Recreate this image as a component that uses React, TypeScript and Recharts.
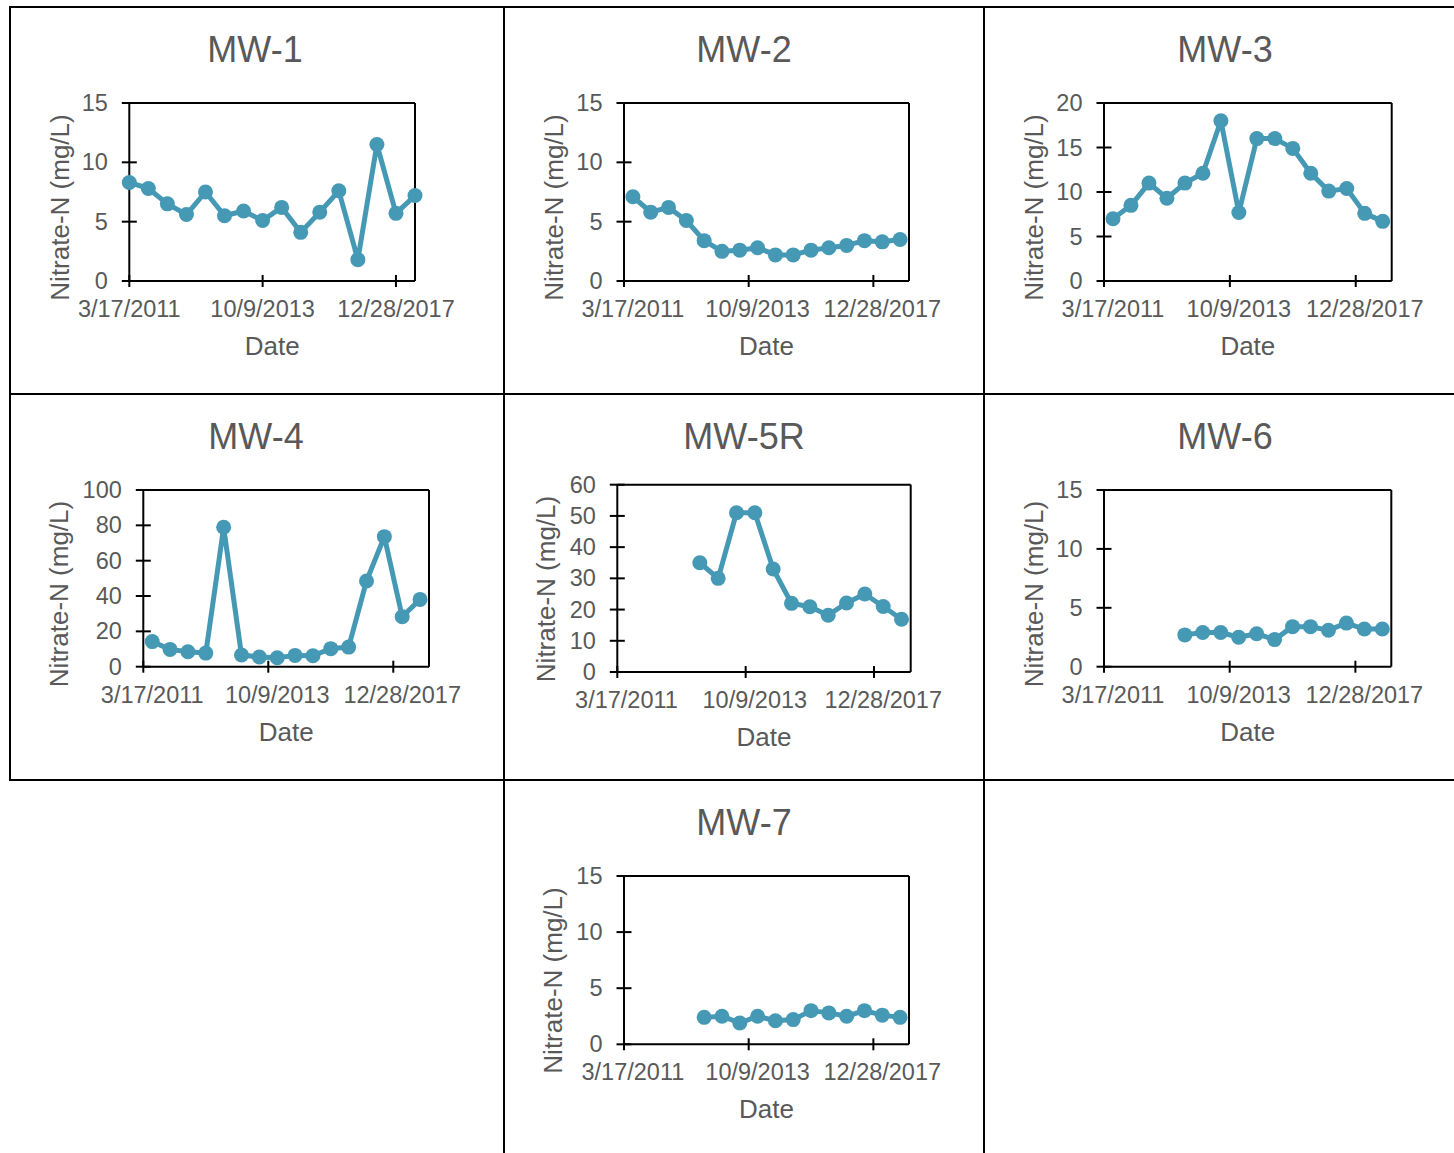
import React from "react";
import { LineChart, Line, XAxis, YAxis, Customized } from "recharts";

// ---------- data ----------
const samples = [1, 2, 3, 4, 5, 6, 7, 8, 9, 10, 11, 12, 13, 14, 15, 16];
const dateBySample: Record<number, string> = {
  1: "3/17/2011",
  8: "10/9/2013",
  15: "12/28/2017",
};

const mw1 = [8.3, 7.8, 6.5, 5.6, 7.5, 5.5, 5.9, 5.1, 6.2, 4.1, 5.8, 7.6, 1.8, 11.5, 5.7, 7.2];
const mw2 = [7.1, 5.8, 6.2, 5.1, 3.4, 2.5, 2.6, 2.8, 2.2, 2.2, 2.6, 2.8, 3.0, 3.4, 3.3, 3.5];
const mw3 = [7.0, 8.5, 11.0, 9.3, 11.0, 12.1, 18.0, 7.7, 16.0, 16.0, 14.9, 12.1, 10.1, 10.4, 7.6, 6.7];
const mw4 = [14.2, 9.8, 8.5, 7.7, 78.9, 6.6, 5.5, 5.1, 6.4, 6.2, 10.2, 11.1, 48.5, 73.6, 28.3, 38.1];
const mw5r = [null, null, null, null, 35.0, 30.0, 51.0, 51.0, 33.0, 22.0, 20.9, 18.2, 22.1, 25.0, 21.0, 16.9];
const mw6 = [null, null, null, null, 2.7, 2.9, 2.9, 2.5, 2.8, 2.3, 3.4, 3.4, 3.1, 3.7, 3.2, 3.2];
const mw7 = [null, null, null, null, 2.4, 2.5, 1.9, 2.5, 2.1, 2.2, 3.0, 2.8, 2.5, 3.0, 2.6, 2.4];

const ticks15 = [0, 5, 10, 15];
const ticks20 = [0, 5, 10, 15, 20];
const ticks100 = [0, 20, 40, 60, 80, 100];
const ticks60 = [0, 10, 20, 30, 40, 50, 60];

const yTitle = "Nitrate-N (mg/L)";
const xTitle = "Date";

// ---------- style ----------
const LINE = "#4599B5";
const TEXT = "#595959";
const FONT = "'Liberation Sans', Arial, Helvetica, sans-serif";

type Panel = {
  title: string;
  values: (number | null)[];
  yTicks: number[];
  onTick: boolean;
  cell: [number, number, number, number]; // L T R B (page)
  plot: [number, number, number, number]; // l t r b (page)
  titlePos: [number, number];
  yLabPos: [number, number];
};

const panels: Panel[] = [
  { title: "MW-1", values: mw1, yTicks: ticks15, onTick: true, cell: [11, 8, 503, 393], plot: [129.3, 103, 415, 281], titlePos: [255, 62], yLabPos: [68.5, 207.5] },
  { title: "MW-2", values: mw2, yTicks: ticks15, onTick: false, cell: [505, 8, 983, 393], plot: [624, 103, 909, 281], titlePos: [744, 62], yLabPos: [563, 207.5] },
  { title: "MW-3", values: mw3, yTicks: ticks20, onTick: false, cell: [985, 8, 1454, 393], plot: [1104, 103, 1391.7, 281], titlePos: [1225, 62], yLabPos: [1043, 207.5] },
  { title: "MW-4", values: mw4, yTicks: ticks100, onTick: false, cell: [11, 395, 503, 779], plot: [143.3, 490, 429, 666.7], titlePos: [256, 449], yLabPos: [68, 594] },
  { title: "MW-5R", values: mw5r, yTicks: ticks60, onTick: false, cell: [505, 395, 983, 779], plot: [617.3, 484.7, 910.7, 672], titlePos: [744, 449], yLabPos: [555.3, 589] },
  { title: "MW-6", values: mw6, yTicks: ticks15, onTick: false, cell: [985, 395, 1454, 779], plot: [1104, 490, 1391.3, 666.7], titlePos: [1225, 449], yLabPos: [1043, 594] },
  { title: "MW-7", values: mw7, yTicks: ticks15, onTick: false, cell: [505, 781, 983, 1153], plot: [624, 876, 909, 1044.3], titlePos: [744, 835], yLabPos: [562, 980.5] },
];

const Y_AXIS_W = 40;
const X_AXIS_H = 30;
const SIDE = 10;

function PanelChart({ p }: { p: Panel }) {
  const [L, T, R, B] = p.cell;
  const [pl, pt, pr, pb] = p.plot;
  const W = R - L;
  const H = B - T;
  const plotW = pr - pl;
  const half = p.onTick ? 0 : plotW / samples.length / 2;
  const data = samples.map((s, i) => ({ sample: s, value: p.values[i] }));
  const yMax = p.yTicks[p.yTicks.length - 1];

  const margin = {
    left: pl - L - Y_AXIS_W,
    right: R - pr - SIDE,
    top: pt - T - SIDE,
    bottom: B - pb - X_AXIS_H,
  };

  const XTick = (props: any) => {
    const { x, y, payload } = props;
    const label = dateBySample[payload.value] ?? "";
    return (
      <g>
        <line x1={x - half} x2={x - half} y1={y - 6} y2={y + 6} stroke="#000" strokeWidth={2} />
        <text x={x} y={y + 36} textAnchor="middle" fill={TEXT} fontSize={23.5} fontFamily={FONT}>
          {label}
        </text>
      </g>
    );
  };

  const YTick = (props: any) => {
    const { x, y, payload } = props;
    return (
      <g>
        <line x1={x - 7.5} x2={x + 7.5} y1={y} y2={y} stroke="#000" strokeWidth={2} />
        <text x={x - 21.5} y={y + 8} textAnchor="end" fill={TEXT} fontSize={23.5} fontFamily={FONT}>
          {payload.value}
        </text>
      </g>
    );
  };

  const Texts = () => (
    <g>
      <text x={p.titlePos[0] - L} y={p.titlePos[1] - T} textAnchor="middle" fill={TEXT} fontSize={36} fontFamily={FONT}>
        {p.title}
      </text>
      <text x={(pl + pr) / 2 - L} y={pb + 74 - T} textAnchor="middle" fill={TEXT} fontSize={26} fontFamily={FONT}>
        {xTitle}
      </text>
      <text
        x={p.yLabPos[0] - L}
        y={p.yLabPos[1] - T}
        textAnchor="middle"
        fill={TEXT}
        fontSize={26}
        fontFamily={FONT}
        transform={`rotate(-90, ${p.yLabPos[0] - L}, ${p.yLabPos[1] - T})`}
      >
        {yTitle}
      </text>
    </g>
  );

  return (
    <div style={{ position: "absolute", left: L, top: T, width: W, height: H }}>
      <LineChart width={W} height={H} data={data} margin={margin}>
        <XAxis
          xAxisId="bottom"
          dataKey="sample"
          type="category"
          height={X_AXIS_H}
          interval={6}
          padding={{ left: half, right: half }}
          tickSize={0}
          tickMargin={0}
          tickLine={false}
          axisLine={{ stroke: "#000", strokeWidth: 2 }}
          tick={XTick}
        />
        <XAxis
          xAxisId="top"
          dataKey="sample"
          orientation="top"
          height={SIDE}
          tick={false}
          tickLine={false}
          axisLine={{ stroke: "#000", strokeWidth: 2 }}
        />
        <YAxis
          yAxisId="left"
          type="number"
          domain={[0, yMax]}
          ticks={p.yTicks}
          width={Y_AXIS_W}
          tickSize={0}
          tickMargin={0}
          tickLine={false}
          axisLine={{ stroke: "#000", strokeWidth: 2 }}
          tick={YTick}
        />
        <YAxis
          yAxisId="right"
          orientation="right"
          type="number"
          domain={[0, yMax]}
          width={SIDE}
          tick={false}
          tickLine={false}
          axisLine={{ stroke: "#000", strokeWidth: 2 }}
        />
        <Line
          xAxisId="bottom"
          yAxisId="left"
          dataKey="value"
          stroke={LINE}
          strokeWidth={5}
          strokeLinejoin="round"
          dot={{ r: 7.5, fill: LINE, stroke: LINE, strokeWidth: 0 }}
          activeDot={false}
          isAnimationActive={false}
        />
        <Customized component={Texts} />
      </LineChart>
    </div>
  );
}

const borders: { left: number; top: number; width: number; height: number }[] = [
  { left: 9, top: 6, width: 1445, height: 2 },
  { left: 9, top: 393, width: 1445, height: 2 },
  { left: 9, top: 779, width: 1445, height: 2 },
  { left: 9, top: 6, width: 2, height: 775 },
  { left: 503, top: 6, width: 2, height: 1147 },
  { left: 983, top: 6, width: 2, height: 1147 },
];

export default function App() {
  return (
    <div style={{ position: "absolute", left: 0, top: 0, width: 1454, height: 1153, background: "#fff", overflow: "hidden", fontFamily: FONT }}>
      {panels.map((p) => (
        <PanelChart key={p.title} p={p} />
      ))}
      {borders.map((b, i) => (
        <div key={i} style={{ position: "absolute", ...b, background: "#000" }} />
      ))}
    </div>
  );
}
